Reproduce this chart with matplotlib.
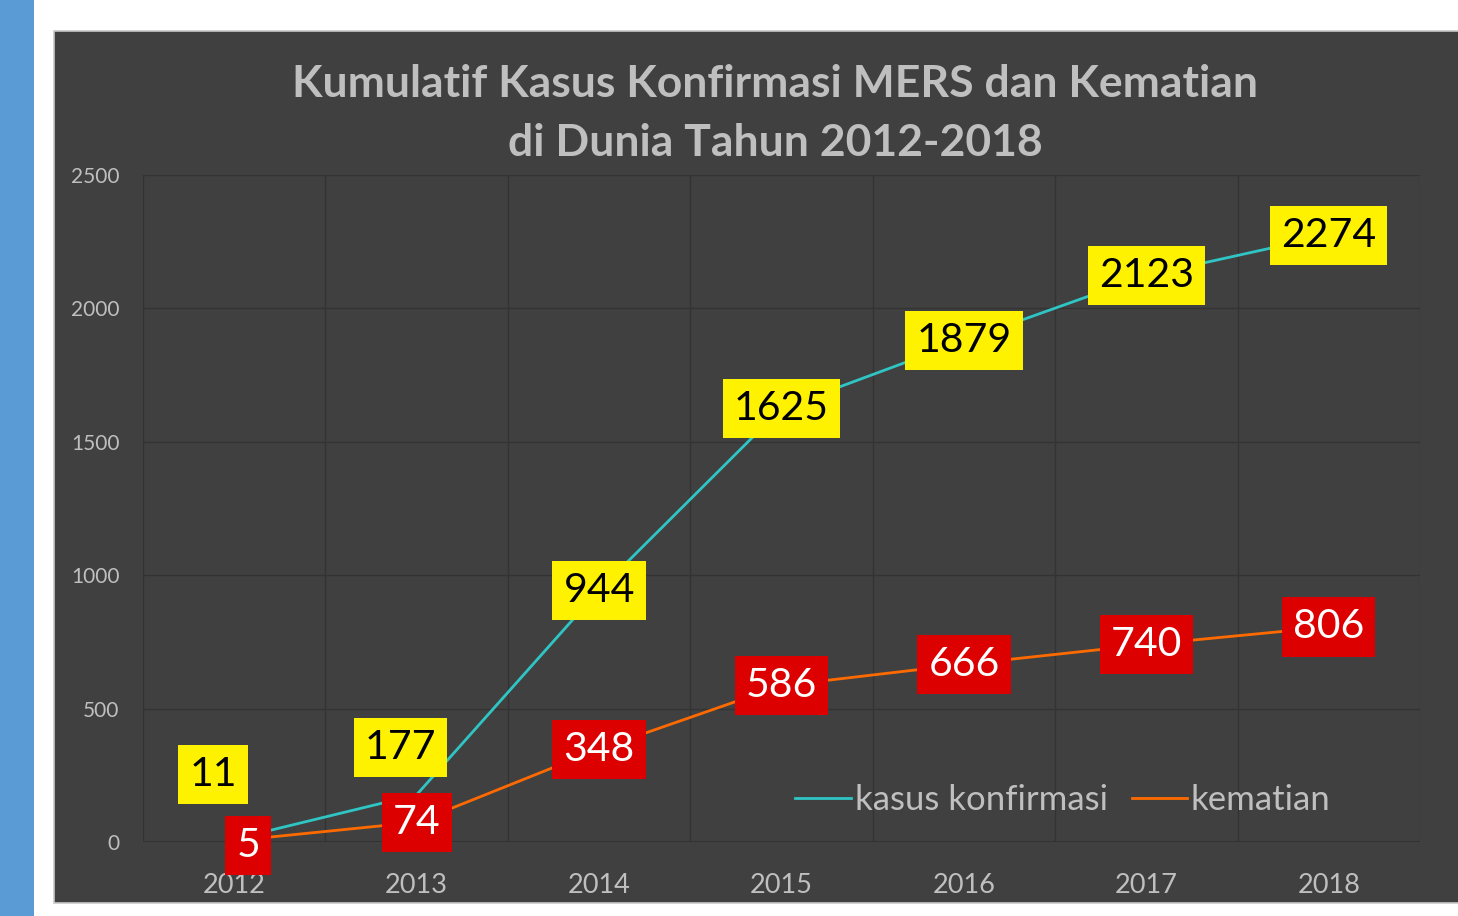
import numpy as np
import matplotlib
matplotlib.use("Agg")
import matplotlib.pyplot as plt
from matplotlib.patches import Rectangle

# data
tahun = ["2012", "2013", "2014", "2015", "2016", "2017", "2018"]
kasus = [11, 177, 944, 1625, 1879, 2123, 2274]
kematian = [5, 74, 348, 586, 666, 740, 806]

# label offsets in pixels (most labels sit on the point)
off_kasus = [(-21, 65), (-16, 47), (0, 0), (0, 0), (0, 0), (0, 0), (0, 0)]
off_mati = [(14, -5), (0, 0), (0, 0), (0, 0), (0, 0), (0, 0), (0, 0)]

fnt = ["Lato", "DejaVu Sans"]
grey = "#bfbfbf"
bg = "#404040"

fig = plt.figure(figsize=(14.58, 9.16), dpi=100)
fig.patch.set_facecolor("white")

W, H = 1458, 916
# blue strip on the left and the dark chart panel
fig.patches.append(Rectangle((0, 0), 34 / W, 1, transform=fig.transFigure,
                             facecolor="#5b9bd5", edgecolor="none", zorder=-5))
fig.patches.append(Rectangle((54 / W, (H - 903) / H), 1.2, (903 - 31) / H,
                             transform=fig.transFigure, facecolor=bg,
                             edgecolor="#c8c8c8", lw=1.2, zorder=-5))

ax = fig.add_axes([143 / W, (H - 842) / H, (1420 - 143) / W, (842 - 175) / H])
ax.set_facecolor(bg)
x = np.arange(len(tahun))

ax.plot(x, kasus, color="#30c5c5", lw=2, label="kasus konfirmasi", zorder=3)
ax.plot(x, kematian, color="#ff6a00", lw=2, label="kematian", zorder=3)

ax.set_xlim(-0.5, 6.5)
ax.set_ylim(0, 2500)
ax.set_yticks(np.arange(0, 2501, 500))
ax.set_xticks(x)
ax.set_xticklabels(tahun)
ax.grid(False)
for v in np.arange(500, 2501, 500):
    ax.axhline(v, color="#333333", lw=1, zorder=1)
for v in np.arange(-0.5, 7, 1):
    ax.axvline(v, color="#333333", lw=1, zorder=1)
ax.axhline(0, color="#333333", lw=1.5, zorder=1)
for s in ax.spines.values():
    s.set_visible(False)
ax.tick_params(axis="both", which="both", length=0)
ax.tick_params(axis="y", labelsize=15, labelcolor=grey, pad=17)
ax.tick_params(axis="x", labelsize=19.5, labelcolor=grey, pad=22.5)
for t in ax.get_yticklabels() + ax.get_xticklabels():
    t.set_family(fnt)

# data labels
for i in range(len(x)):
    ax.annotate(str(kasus[i]), (x[i], kasus[i]), xytext=off_kasus[i],
                textcoords="offset pixels", ha="center", va="center",
                fontsize=29.5, color="black", family=fnt, zorder=5,
                bbox=dict(boxstyle="square,pad=0.27", fc="#fff200", ec="none"))
    ax.annotate(str(kematian[i]), (x[i], kematian[i]), xytext=off_mati[i],
                textcoords="offset pixels", ha="center", va="center",
                fontsize=29.5, color="white", family=fnt, zorder=5,
                bbox=dict(boxstyle="square,pad=0.27", fc="#dd0000", ec="none"))

fig.text(775 / W, (H - 113.5) / H,
         "Kumulatif Kasus Konfirmasi MERS dan Kematian\ndi Dunia Tahun 2012-2018",
         ha="center", va="center", fontsize=32, fontweight="bold",
         color=grey, family="Lato", linespacing=1.55)

leg = ax.legend(loc="center right", bbox_to_anchor=(0.93, 0.063), ncol=2,
                frameon=False, fontsize=25, handlelength=1.6,
                handletextpad=0.1, columnspacing=0.7, borderpad=0,
                borderaxespad=0)
for t in leg.get_texts():
    t.set_color(grey)
    t.set_family(fnt)

fig.savefig("out.png", dpi=100, facecolor=fig.get_facecolor())
